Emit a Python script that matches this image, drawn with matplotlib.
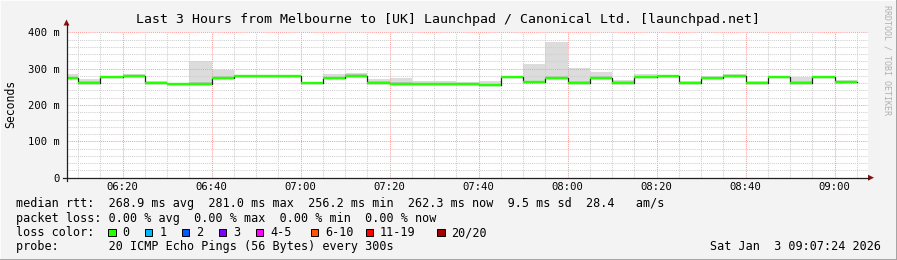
import numpy as np
import matplotlib
matplotlib.use('Agg')
import matplotlib.pyplot as plt
from matplotlib.patches import Rectangle, Polygon
from matplotlib.lines import Line2D

W, H = 897, 260

title = "Last 3 Hours from Melbourne to [UK] Launchpad / Canonical Ltd. [launchpad.net]"

# start of each 5 minute bin, minutes after midnight (06:05 .. 09:00)
binStart = list(range(6 * 60 + 5, 9 * 60 + 5, 5))

# median rtt in ms
median = [275.0, 261.0, 277.6, 280.0, 261.0, 256.6, 256.6, 275.0, 280.0, 280.0,
          280.0, 261.0, 275.0, 280.5, 261.0, 256.6, 256.4, 256.6, 256.4, 256.2,
          277.6, 262.0, 275.0, 261.0, 275.0, 261.5, 278.0, 280.5, 261.0, 275.0,
          281.0, 261.0, 277.6, 261.0, 277.6, 262.3]
# smoke: slowest ping, an inner band and fastest ping (ms)
smokeHi = [285, 272, 281, 284, 266, 259, 320, 296, 281, 281,
           281, 264, 285, 288, 271, 273, 266, 265, 262, 266,
           280, 313, 373, 301, 290, 270, 285, 282, 267, 279,
           285, 267, 278, 278, 279, 270]
smokeMid = [278, 266, 279, 282, 263, 258, 262, 279, 281, 281,
            281, 263, 278, 284, 265, 262, 261, 260, 258.5, 259,
            279, 265, 279, 265, 279, 266, 281, 281, 263, 277,
            283, 263, 278, 265, 278.5, 267]
smokeLo = [273, 259, 276, 278.5, 259.5, 255, 255, 273.5, 278.5, 278.5,
           278.5, 259.5, 273.5, 279, 259.5, 255, 255, 255, 255, 254.8,
           276, 260.5, 273.5, 259.5, 273.5, 260, 276.5, 279, 259.5, 273.5,
           279.5, 259.5, 276, 259.5, 276, 260.5]

yTicks = [0, 100, 200, 300, 400]
yTickLabels = ["0", "100 m", "200 m", "300 m", "400 m"]

lossLabels = ["0", "1", "2", "3", "4-5", "6-10", "11-19", "20/20"]
lossColors = ["#26ff00", "#00b8ff", "#0059ff", "#7e00ff", "#ff00ff",
              "#ff5500", "#ff0000", "#a10000"]

legendLines = [
    "median rtt:  268.9 ms avg  281.0 ms max  256.2 ms min  262.3 ms now  9.5 ms sd  28.4   am/s",
    "packet loss: 0.00 % avg  0.00 % max  0.00 % min  0.00 % now",
    "loss color:",
    "probe:       20 ICMP Echo Pings (56 Bytes) every 300s",
]
dateText = "Sat Jan  3 09:07:24 2026"
credit = "RRDTOOL / TOBI OETIKER"

tStart = 6 * 60 + 7.4
tEnd = 9 * 60 + 7.4

MONO = "DejaVu Sans Mono"


def fx(x):
    return x / W


def fy(y):
    return 1 - y / H


def hhmm(m, pos=None):
    m = int(round(m))
    return "%02d:%02d" % (m // 60, m % 60)


def main():
    fig = plt.figure(figsize=(W / 100, H / 100), dpi=100, facecolor="#f3f3f3")

    # plot area in pixels: x 66.5..867.5, y 32.3..177.7
    left, right, top, bottom = 66.5, 867.5, 32.3, 177.7
    ax = fig.add_axes([fx(left), fy(bottom), (right - left) / W, (bottom - top) / H])
    ax.set_facecolor("white")
    for s in ax.spines.values():
        s.set_visible(False)

    edges = binStart + [binStart[-1] + 5]
    hi = smokeHi + [smokeHi[-1]]
    mid = smokeMid + [smokeMid[-1]]
    lo = smokeLo + [smokeLo[-1]]
    med = median + [median[-1]]
    ax.fill_between(edges, lo, hi, step="post", color="#dcdcdc", lw=0, zorder=1)
    ax.fill_between(edges, lo, mid, step="post", color="#c4c4c4", lw=0, zorder=1)

    # black step for the joins, green for the bins (loss 0)
    ax.step(edges, med, where="post", color="#202020", lw=0.9, zorder=3)
    ax.hlines(median, binStart, edges[1:], color=lossColors[0], lw=1.7, zorder=4)

    ax.set_xlim(tStart, tEnd)
    ax.set_ylim(0, 400)
    ax.set_xticks(range(6 * 60 + 20, 9 * 60 + 1, 20))
    ax.set_xticks(range(6 * 60 + 10, 9 * 60 + 8, 5), minor=True)
    ax.xaxis.set_major_formatter(plt.FuncFormatter(hhmm))
    ax.set_yticks(yTicks)
    ax.set_yticklabels(yTickLabels)
    ax.set_yticks(range(20, 400, 20), minor=True)
    ax.tick_params(which="both", length=0, labelsize=7.6, colors="#000000")
    ax.tick_params(axis="x", pad=3.2)
    ax.tick_params(axis="y", pad=4.6)
    for lab in ax.get_xticklabels() + ax.get_yticklabels():
        lab.set_family(MONO)

    ax.grid(which="minor", color="#cfcfcf", ls=(0, (1, 1)), lw=0.75)
    ax.grid(which="major", color="#ff9c9c", ls=(0, (1, 1)), lw=0.75)

    # axes with arrows
    fig.add_artist(Line2D([fx(left), fx(left)], [fy(181), fy(24)], color="#202020", lw=0.9))
    fig.add_artist(Line2D([fx(63), fx(869)], [fy(bottom), fy(bottom)], color="#202020", lw=0.9))
    fig.add_artist(Polygon([(fx(63.5), fy(25.5)), (fx(69.5), fy(25.5)), (fx(66.5), fy(19.5))],
                           closed=True, color="#8b1010", lw=0))
    fig.add_artist(Polygon([(fx(868), fy(174.7)), (fx(868), fy(180.7)), (fx(874), fy(bottom))],
                           closed=True, color="#8b1010", lw=0))

    fig.text(fx(447.5), fy(19.3), title, family=MONO, fontsize=9.5, ha="center", va="center")
    fig.text(fx(11), fy(103.5), "Seconds", family=MONO, fontsize=8.3, rotation=90,
             ha="center", va="center")
    fig.text(fx(887), fy(5), credit, family=MONO, fontsize=6, rotation=270,
             ha="center", va="top", color="#b0b0b0")

    # legend block
    rowY = [204, 218.3, 232.5, 246.7]
    for txt, y in zip(legendLines, rowY):
        fig.text(fx(16), fy(y), txt, family=MONO, fontsize=8.5, ha="left", va="center")
    fig.text(fx(881), fy(246.7), dateText, family=MONO, fontsize=8.5, ha="right", va="center")

    boxX = [108.3, 145.0, 181.7, 219.0, 255.7, 310.7, 365.7, 437.3]
    for x, lab, col in zip(boxX, lossLabels, lossColors):
        fig.add_artist(Rectangle((fx(x), fy(236.2)), 7.4 / W, 7.4 / H, facecolor=col,
                                 edgecolor="black", lw=0.7))
        fig.text(fx(x + 14.2), fy(232.5), lab, family=MONO, fontsize=8.5, ha="left", va="center")

    # 3d-ish frame
    fig.add_artist(Line2D([0, 0, 1], [0, 1, 1], color="#fcfcfc", lw=1.5))
    fig.add_artist(Line2D([0, 1, 1], [0.5 / H, 0.5 / H, 1], color="#9c9c9c", lw=2.0))

    fig.savefig("out.png", dpi=100, facecolor=fig.get_facecolor())


if __name__ == '__main__':
    main()
